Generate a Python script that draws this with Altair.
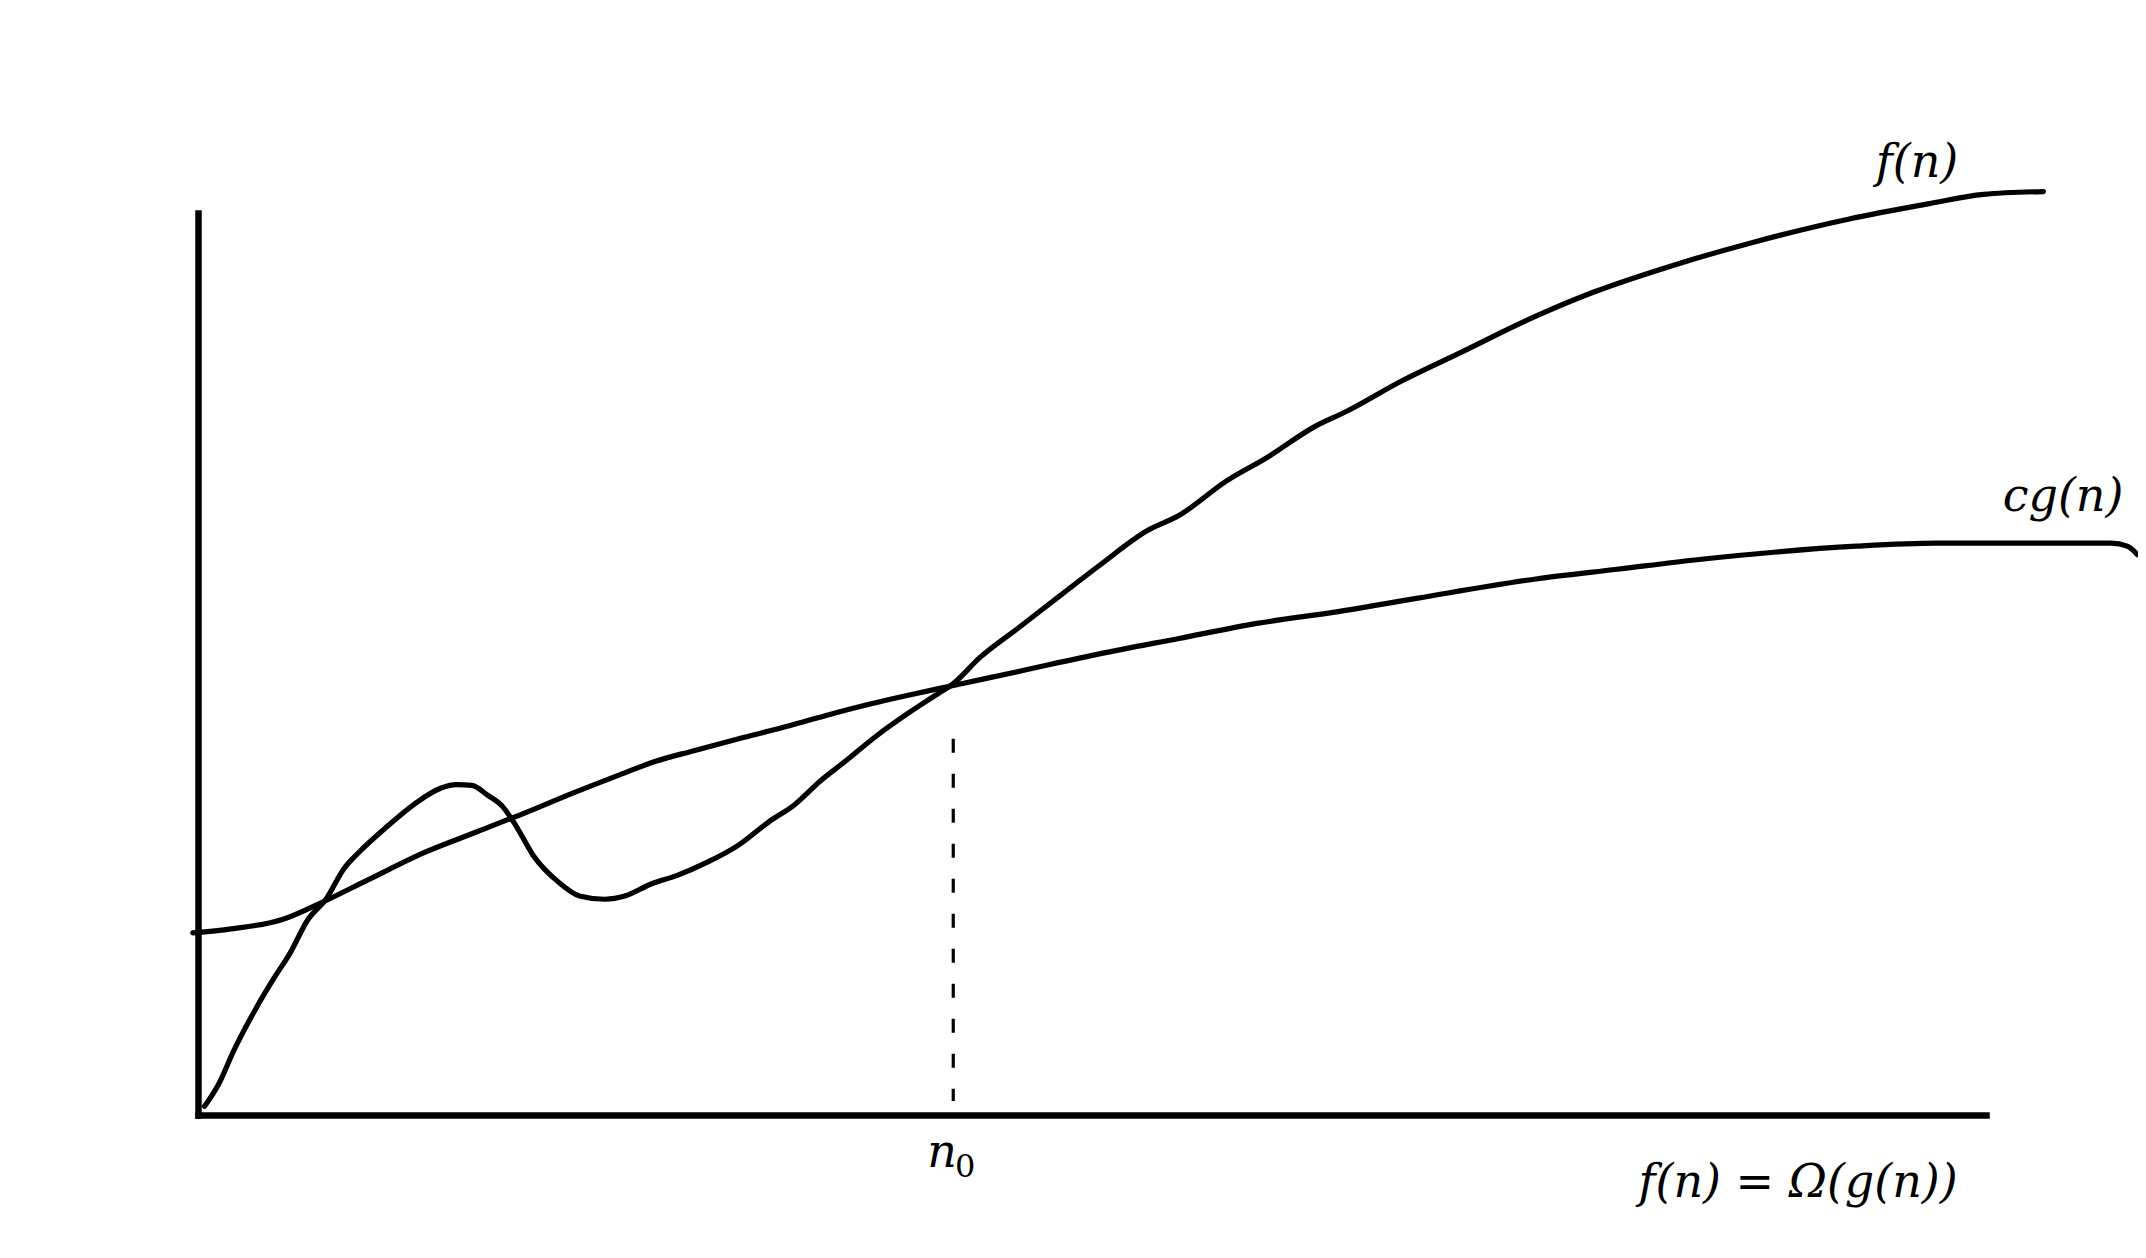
import altair as alt
import pandas as pd

# f(n) curve (x, y), in axis units (0..100 on both axes)
f_x = [0.37, 1.15, 2.00, 3.29, 4.30, 5.15, 6.15, 7.16, 8.15, 9.02, 10.45, 12.16, 13.60,
       14.46, 15.32, 16.17, 17.04, 17.76, 18.75, 20.18, 21.33, 22.76, 23.91, 25.34, 26.77,
       28.49, 30.21, 31.93, 33.35, 34.79, 36.22, 37.94, 39.66, 41.38, 42.24, 43.72, 45.95,
       48.18, 50.41, 53.08, 54.86, 57.53, 59.77, 62.43, 64.22, 67.34, 70.46, 74.92, 78.03,
       82.49, 86.95, 92.29, 96.76, 99.87, 103.21]
f_y = [0.96, 3.40, 7.13, 11.98, 15.33, 17.95, 21.68, 23.92, 27.28, 29.16, 31.76, 34.56, 36.25,
       36.62, 36.54, 35.49, 34.19, 32.14, 28.78, 25.79, 24.29, 23.92, 24.30, 25.61, 26.54,
       28.03, 29.90, 32.51, 34.37, 37.00, 39.24, 42.02, 44.46, 46.70, 47.82, 50.70, 54.10,
       57.52, 60.92, 64.77, 66.46, 70.30, 72.87, 76.29, 77.99, 81.40, 84.38, 88.65, 91.21,
       94.19, 96.74, 99.31, 101.01, 102.07, 102.38]

# c*g(n) curve
cg_x = [-0.29, 1.86, 4.72, 6.72, 9.59, 12.74, 15.60, 18.47, 20.75, 23.61, 25.64, 27.63, 30.50,
        33.07, 35.08, 37.65, 39.66, 42.24, 45.95, 50.41, 54.86, 59.32, 63.77, 68.23, 74.92,
        79.37, 83.83, 88.28, 92.75, 97.20, 101.65, 107.01, 107.90, 108.47]
cg_y = [20.19, 20.64, 21.68, 23.37, 26.15, 29.16, 31.40, 33.64, 35.51, 37.74, 39.24, 40.34, 41.85,
        43.15, 44.27, 45.59, 46.51, 47.62, 49.20, 51.12, 52.83, 54.53, 55.81, 57.31, 59.45,
        60.50, 61.56, 62.42, 63.06, 63.40, 63.40, 63.40, 63.06, 62.13]

# crossing point n0 and its dashed guide
n0 = 42.24
guide_top = [41.7]
guide_bottom = [1.55]

# formula labels (italic)
label_text = ["f(n)", "cg(n)", "f(n) = Ω(g(n))"]
label_x = [96.14, 104.31, 89.49]
label_y = [105.54, 68.51, -7.54]

# n0 label: italic n + upright subscript 0
n_text = ["n"]
n_x = [41.61]
n_y = [-5.76]
sub_text = ["0"]
sub_x = [42.90]
sub_y = [-6.87]

FONT = "DejaVu Serif"

curves = pd.concat([
    pd.DataFrame({"x": f_x, "y": f_y, "curve": "f(n)"}),
    pd.DataFrame({"x": cg_x, "y": cg_y, "curve": "cg(n)"}),
])
guide = pd.DataFrame({"x": [n0], "y": guide_top, "y2": guide_bottom})
labels = pd.DataFrame({"text": label_text, "x": label_x, "y": label_y})
nlab = pd.DataFrame({"text": n_text, "x": n_x, "y": n_y})
subs = pd.DataFrame({"text": sub_text, "x": sub_x, "y": sub_y})

x_scale = alt.Scale(domain=[0, 100], nice=False, zero=False)
y_scale = alt.Scale(domain=[0, 100], nice=False, zero=False)

x_axis = alt.Axis(
    title=None, labels=False, grid=False, ticks=False, tickSize=0,
    domainColor="black", domainWidth=6.5, domainCap="square",
)
y_axis = alt.Axis(
    title=None, labels=False, ticks=False, grid=False, tickSize=0,
    domainColor="black", domainWidth=6.5, domainCap="square",
)

X = alt.X("x:Q", scale=x_scale, axis=x_axis)
Y = alt.Y("y:Q", scale=y_scale, axis=y_axis)

lines = alt.Chart(curves).mark_line(
    color="black", strokeWidth=5.2, strokeCap="round", strokeJoin="round", interpolate="monotone"
).encode(x=X, y=Y, detail="curve:N")

dash = alt.Chart(guide).mark_rule(
    color="black", strokeWidth=3.2, strokeDash=[14, 21]
).encode(x=X, y=Y, y2="y2:Q")

text = alt.Chart(labels).mark_text(
    font=FONT, fontStyle="italic", fontSize=46, color="black", align="center", baseline="middle"
).encode(x=X, y=Y, text="text:N")

ntext = alt.Chart(nlab).mark_text(
    font=FONT, fontStyle="italic", fontSize=46, color="black", align="center", baseline="alphabetic"
).encode(x=X, y=Y, text="text:N")

sub = alt.Chart(subs).mark_text(
    font=FONT, fontSize=32, color="black", align="center", baseline="alphabetic"
).encode(x=X, y=Y, text="text:N")

chart = alt.layer(lines, dash, text, ntext, sub).properties(
    width=1788, height=902,
    padding={"left": 190, "top": 205, "right": 152, "bottom": 135},
    autosize=alt.AutoSizeParams(type="none"),
    background="white",
).configure_view(stroke=None)

chart.save("out.html", embed_options={"renderer": "svg", "actions": False})
